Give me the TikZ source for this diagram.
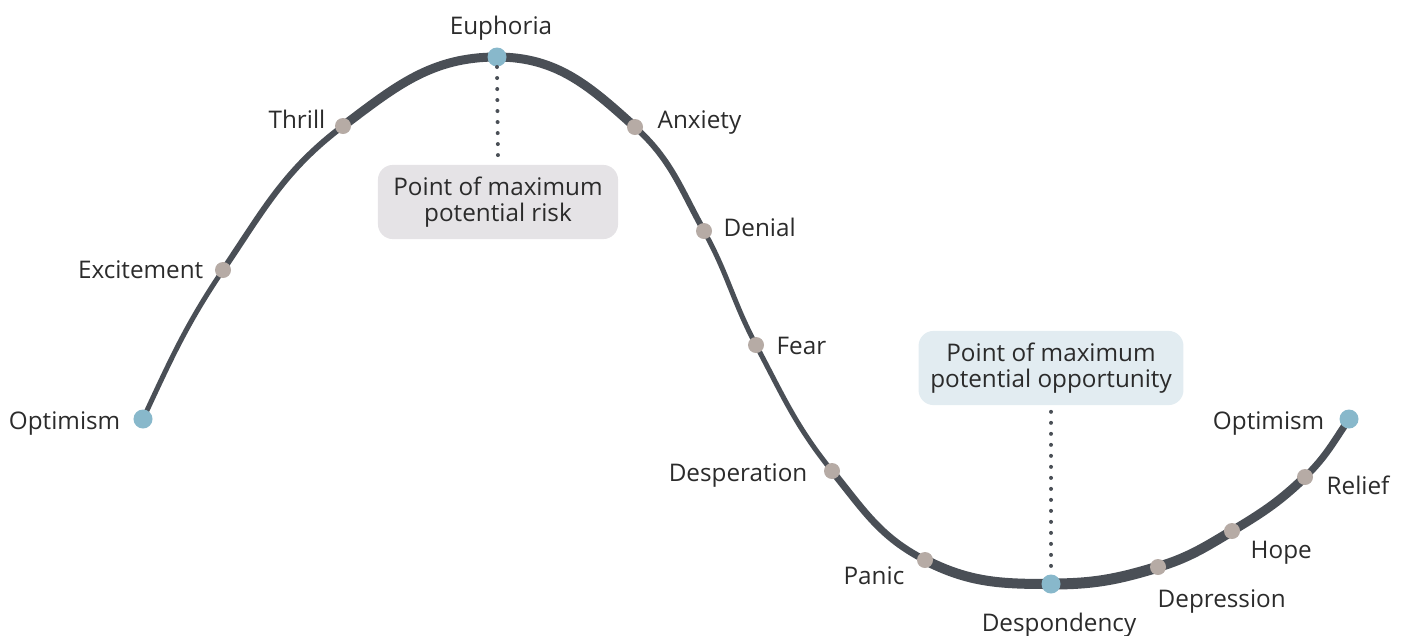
\documentclass[tikz,border=0pt]{standalone}
\usepackage{fontspec}
\setmainfont{Open Sans}
\usetikzlibrary{backgrounds}

\definecolor{curvegray}{HTML}{4A4F56}
\definecolor{dotblue}{HTML}{88B8CB}
\definecolor{dotstone}{HTML}{B6ABA5}
\definecolor{riskfill}{HTML}{E5E3E6}
\definecolor{oppfill}{HTML}{E2ECF1}
\definecolor{textgray}{HTML}{2B2B2B}
\newcommand{\stagefont}{\fontsize{6.9}{7.5}\selectfont}

\begin{document}
\begin{tikzpicture}[
    x=0.01cm, y=0.01cm,
    keydot/.style={circle, fill=dotblue, minimum size=0.19cm, inner sep=0pt},
    stagedot/.style={circle, fill=dotstone, minimum size=0.16cm, inner sep=0pt},
    stage/.style={font=\stagefont, text=textgray, inner sep=0pt},
    callout/.style={
        rounded corners=0.15cm, minimum height=0.69cm,
        align=center, font=\stagefont, text=textgray
    },
    seg/.style={draw=curvegray, line width={#1*0.2845pt}},
    pointer/.style={curvegray, line width=0.04cm, line cap=round, dash pattern=on 0pt off 0.11cm}
]
\useasboundingbox (0,0) rectangle (1406,635);

\node[keydot] (o1) at (143,216) {};
\node[stagedot] (ex) at (223,365) {};
\node[stagedot] (th) at (343,509) {};
\node[keydot] (eu) at (497,578) {};
\node[stagedot] (an) at (635,508) {};
\node[stagedot] (de) at (704,404) {};
\node[stagedot] (fe) at (756,290) {};
\node[stagedot] (ds) at (832,164) {};
\node[stagedot] (pa) at (925,75) {};
\node[keydot] (dy) at (1051,51) {};
\node[stagedot] (dp) at (1158,68) {};
\node[stagedot] (ho) at (1232,104) {};
\node[stagedot] (re) at (1305,158) {};
\node[keydot] (o2) at (1349,216) {};

\begin{scope}[on background layer]
\draw[seg=5] (o1.center) to[out=65, in=236] (ex.center);
\draw[seg=6] (ex.center) to[out=56, in=217] (th.center);
\draw[seg=9] (th.center) to[out=37, in=180] (eu.center);
\draw[seg=9] (eu.center) to[out=0, in=138] (an.center);
\draw[seg=6] (an.center) to[out=-42, in=119] (de.center);
\draw[seg=5] (de.center) to[out=-61, in=118] (fe.center);
\draw[seg=5] (fe.center) to[out=-62, in=129] (ds.center);
\draw[seg=7] (ds.center) to[out=-51, in=153] (pa.center);
\draw[seg=10] (pa.center) to[out=-27, in=180] (dy.center);
\draw[seg=11] (dy.center) to[out=0, in=197] (dp.center);
\draw[seg=10] (dp.center) to[out=17, in=211] (ho.center);
\draw[seg=9] (ho.center) to[out=31, in=224] (re.center);
\draw[seg=7] (re.center) to[out=44, in=236] (o2.center);
\end{scope}

\node[stage, anchor=mid east] (lo1) at (121,215) {Optimism};
\node[stage, anchor=mid east] (lex) at (204,366) {Excitement};
\node[stage, anchor=mid east] (lth) at (326,516) {Thrill};
\node[stage, anchor=mid] (leu) at (501,610) {Euphoria};
\node[stage, anchor=mid west] (lan) at (657,516) {Anxiety};
\node[stage, anchor=mid west] (lde) at (723,408) {Denial};
\node[stage, anchor=mid west] (lfe) at (776,290) {Fear};
\node[stage, anchor=mid east] (lds) at (808,163) {Desperation};
\node[stage, anchor=mid east] (lpa) at (905,60) {Panic};
\node[stage, anchor=mid] (ldy) at (1059,13) {Despondency};
\node[stage, anchor=mid west] (ldp) at (1157,37) {Depression};
\node[stage, anchor=mid west] (lho) at (1250,86) {Hope};
\node[stage, anchor=mid west] (lre) at (1326,150) {Relief};
\node[stage, anchor=mid east] (lo2) at (1325,215) {Optimism};

\node[callout, fill=riskfill, minimum width=2.40cm] (risk) at (498,433) {Point of maximum\\potential risk};
\node[callout, fill=oppfill, minimum width=2.58cm] (opp) at (1051,267) {Point of maximum\\potential opportunity};

\draw[pointer] ([yshift=-0.1cm]eu.center) -- ([yshift=0.05cm]risk.north);
\draw[pointer] ([yshift=-0.06cm]opp.south) -- ([yshift=0.1cm]dy.center);

\end{tikzpicture}
\end{document}
